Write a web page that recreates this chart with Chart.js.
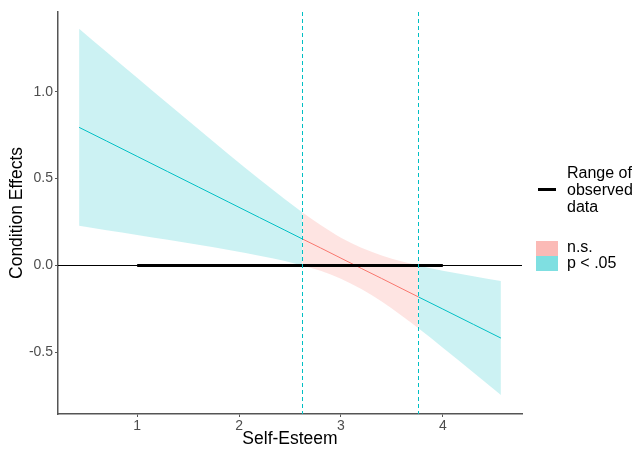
<!DOCTYPE html>
<html>
<head>
<meta charset="utf-8">
<script src="https://cdn.jsdelivr.net/npm/chart.js@4"></script>
<style>
  body { margin: 0; background: #fff; }
  #wrap { width: 633px; height: 450px; position: relative; }
</style>
</head>
<body>
<div id="wrap"><canvas id="jnChart"></canvas></div>
<script>
// values
var selfEsteem = [0.43, 0.7, 1.0, 1.3, 1.6, 1.9, 2.2, 2.45, 2.62, 2.8, 3.0, 3.2, 3.4, 3.6, 3.76, 4.0, 4.3, 4.57];
var effect     = [0.795, 0.716, 0.628, 0.540, 0.452, 0.364, 0.276, 0.203, 0.153, 0.101, 0.042, -0.017, -0.075, -0.134, -0.181, -0.251, -0.339, -0.418];
var ciUpper    = [1.363, 1.229, 1.080, 0.932, 0.785, 0.639, 0.496, 0.381, 0.306, 0.233, 0.160, 0.102, 0.058, 0.023, 0.000, -0.030, -0.062, -0.090];
var ciLower    = [0.228, 0.203, 0.176, 0.148, 0.119, 0.089, 0.056, 0.025, 0.000, -0.031, -0.076, -0.136, -0.208, -0.291, -0.362, -0.473, -0.616, -0.746];
var jnPoints = [2.62, 3.76];
var observedRange = [1, 4];
var xTicks = [1, 2, 3, 4];
var yTicks = [-0.5, 0, 0.5, 1.0];

var cyan = '#00BFC4';
var red = '#F8766D';

function segment(lo, hi, arr) {
  var out = [];
  for (var i = 0; i < selfEsteem.length; i++) {
    if (selfEsteem[i] >= lo && selfEsteem[i] <= hi) out.push({x: selfEsteem[i], y: arr[i]});
  }
  return out;
}

var parts = [
  {lo: -Infinity, hi: jnPoints[0], color: cyan, fill: 'rgba(0,191,196,0.2)'},
  {lo: jnPoints[0], hi: jnPoints[1], color: red, fill: 'rgba(248,118,109,0.2)'},
  {lo: jnPoints[1], hi: Infinity, color: cyan, fill: 'rgba(0,191,196,0.2)'}
];

var datasets = [];
parts.forEach(function (p) {
  datasets.push({data: segment(p.lo, p.hi, ciUpper), borderWidth: 0, pointRadius: 0,
    backgroundColor: p.fill, fill: '+1', order: 5, cubicInterpolationMode: 'monotone'});
  datasets.push({data: segment(p.lo, p.hi, ciLower), borderWidth: 0, pointRadius: 0,
    fill: false, order: 5, cubicInterpolationMode: 'monotone'});
});
parts.forEach(function (p) {
  datasets.push({data: segment(p.lo, p.hi, effect), borderColor: p.color, borderWidth: 1,
    pointRadius: 0, fill: false, order: 2});
});

var font = '"Liberation Sans", Arial, sans-serif';

var extras = {
  id: 'extras',
  afterDatasetsDraw: function (chart) {
    var ctx = chart.ctx, a = chart.chartArea;
    var xs = chart.scales.x, ys = chart.scales.y;
    var y0 = Math.round(ys.getPixelForValue(0)) + 0.5;
    ctx.save();
    // zero line
    ctx.strokeStyle = '#000';
    ctx.lineWidth = 1;
    ctx.beginPath();
    ctx.moveTo(a.left, y0);
    ctx.lineTo(a.right, y0);
    ctx.stroke();
    // range of observed data
    ctx.lineWidth = 3;
    ctx.beginPath();
    ctx.moveTo(xs.getPixelForValue(observedRange[0]), y0);
    ctx.lineTo(xs.getPixelForValue(observedRange[1]), y0);
    ctx.stroke();
    // Johnson-Neyman bounds
    ctx.strokeStyle = cyan;
    ctx.lineWidth = 1;
    ctx.setLineDash([4, 3]);
    jnPoints.forEach(function (v) {
      var px = Math.round(xs.getPixelForValue(v)) + 0.5;
      ctx.beginPath();
      ctx.moveTo(px, a.top);
      ctx.lineTo(px, a.bottom);
      ctx.stroke();
    });
    ctx.restore();
  },
  afterDraw: function (chart) {
    var ctx = chart.ctx;
    ctx.save();
    ctx.font = '16px ' + font;
    ctx.fillStyle = '#000';
    ctx.textBaseline = 'middle';
    ctx.textAlign = 'left';
    ctx.fillText('Range of', 567, 174);
    ctx.fillText('observed', 567, 191);
    ctx.fillText('data', 567, 208);
    ctx.strokeStyle = '#000';
    ctx.lineWidth = 3;
    ctx.beginPath();
    ctx.moveTo(538, 189.5);
    ctx.lineTo(556, 189.5);
    ctx.stroke();
    ctx.fillStyle = 'rgba(248,118,109,0.5)';
    ctx.fillRect(536, 241, 22, 15);
    ctx.fillStyle = 'rgba(0,191,196,0.5)';
    ctx.fillRect(536, 256, 22, 15);
    ctx.fillStyle = '#000';
    ctx.fillText('n.s.', 567, 248);
    ctx.fillText('p < .05', 567, 264);
    ctx.restore();
  }
};

new Chart(document.getElementById('jnChart'), {
  type: 'line',
  data: {datasets: datasets},
  plugins: [extras],
  options: {
    responsive: true,
    maintainAspectRatio: false,
    animation: false,
    layout: {padding: {top: 12, right: 111, left: 0, bottom: 0}},
    plugins: {legend: {display: false}, tooltip: {enabled: false}},
    scales: {
      x: {
        type: 'linear',
        min: 0.223,
        max: 4.777,
        afterBuildTicks: function (s) { s.ticks = xTicks.map(function (v) { return {value: v}; }); },
        afterFit: function (s) { s.height = 36; },
        grid: {drawOnChartArea: false, drawTicks: true, tickLength: 3, color: '#555', lineWidth: 1},
        border: {display: true, color: '#555', width: 1.5},
        ticks: {color: '#4d4d4d', padding: 1, font: {family: font, size: 14}, maxRotation: 0},
        title: {display: true, text: 'Self-Esteem', color: '#000',
          font: {family: font, size: 17.5}, padding: {top: 0, bottom: 0}}
      },
      y: {
        type: 'linear',
        min: -0.855,
        max: 1.459,
        afterBuildTicks: function (s) { s.ticks = yTicks.map(function (v) { return {value: v}; }); },
        afterFit: function (s) { s.width = 58; },
        grid: {drawOnChartArea: false, drawTicks: true, tickLength: 3, color: '#555', lineWidth: 1},
        border: {display: true, color: '#555', width: 1.5},
        ticks: {color: '#4d4d4d', padding: 2, font: {family: font, size: 14},
          callback: function (v) { return v.toFixed(1); }},
        title: {display: true, text: 'Condition Effects', color: '#000',
          font: {family: font, size: 17.5}, padding: {top: 7, bottom: 0}}
      }
    }
  }
});
</script>
</body>
</html>
